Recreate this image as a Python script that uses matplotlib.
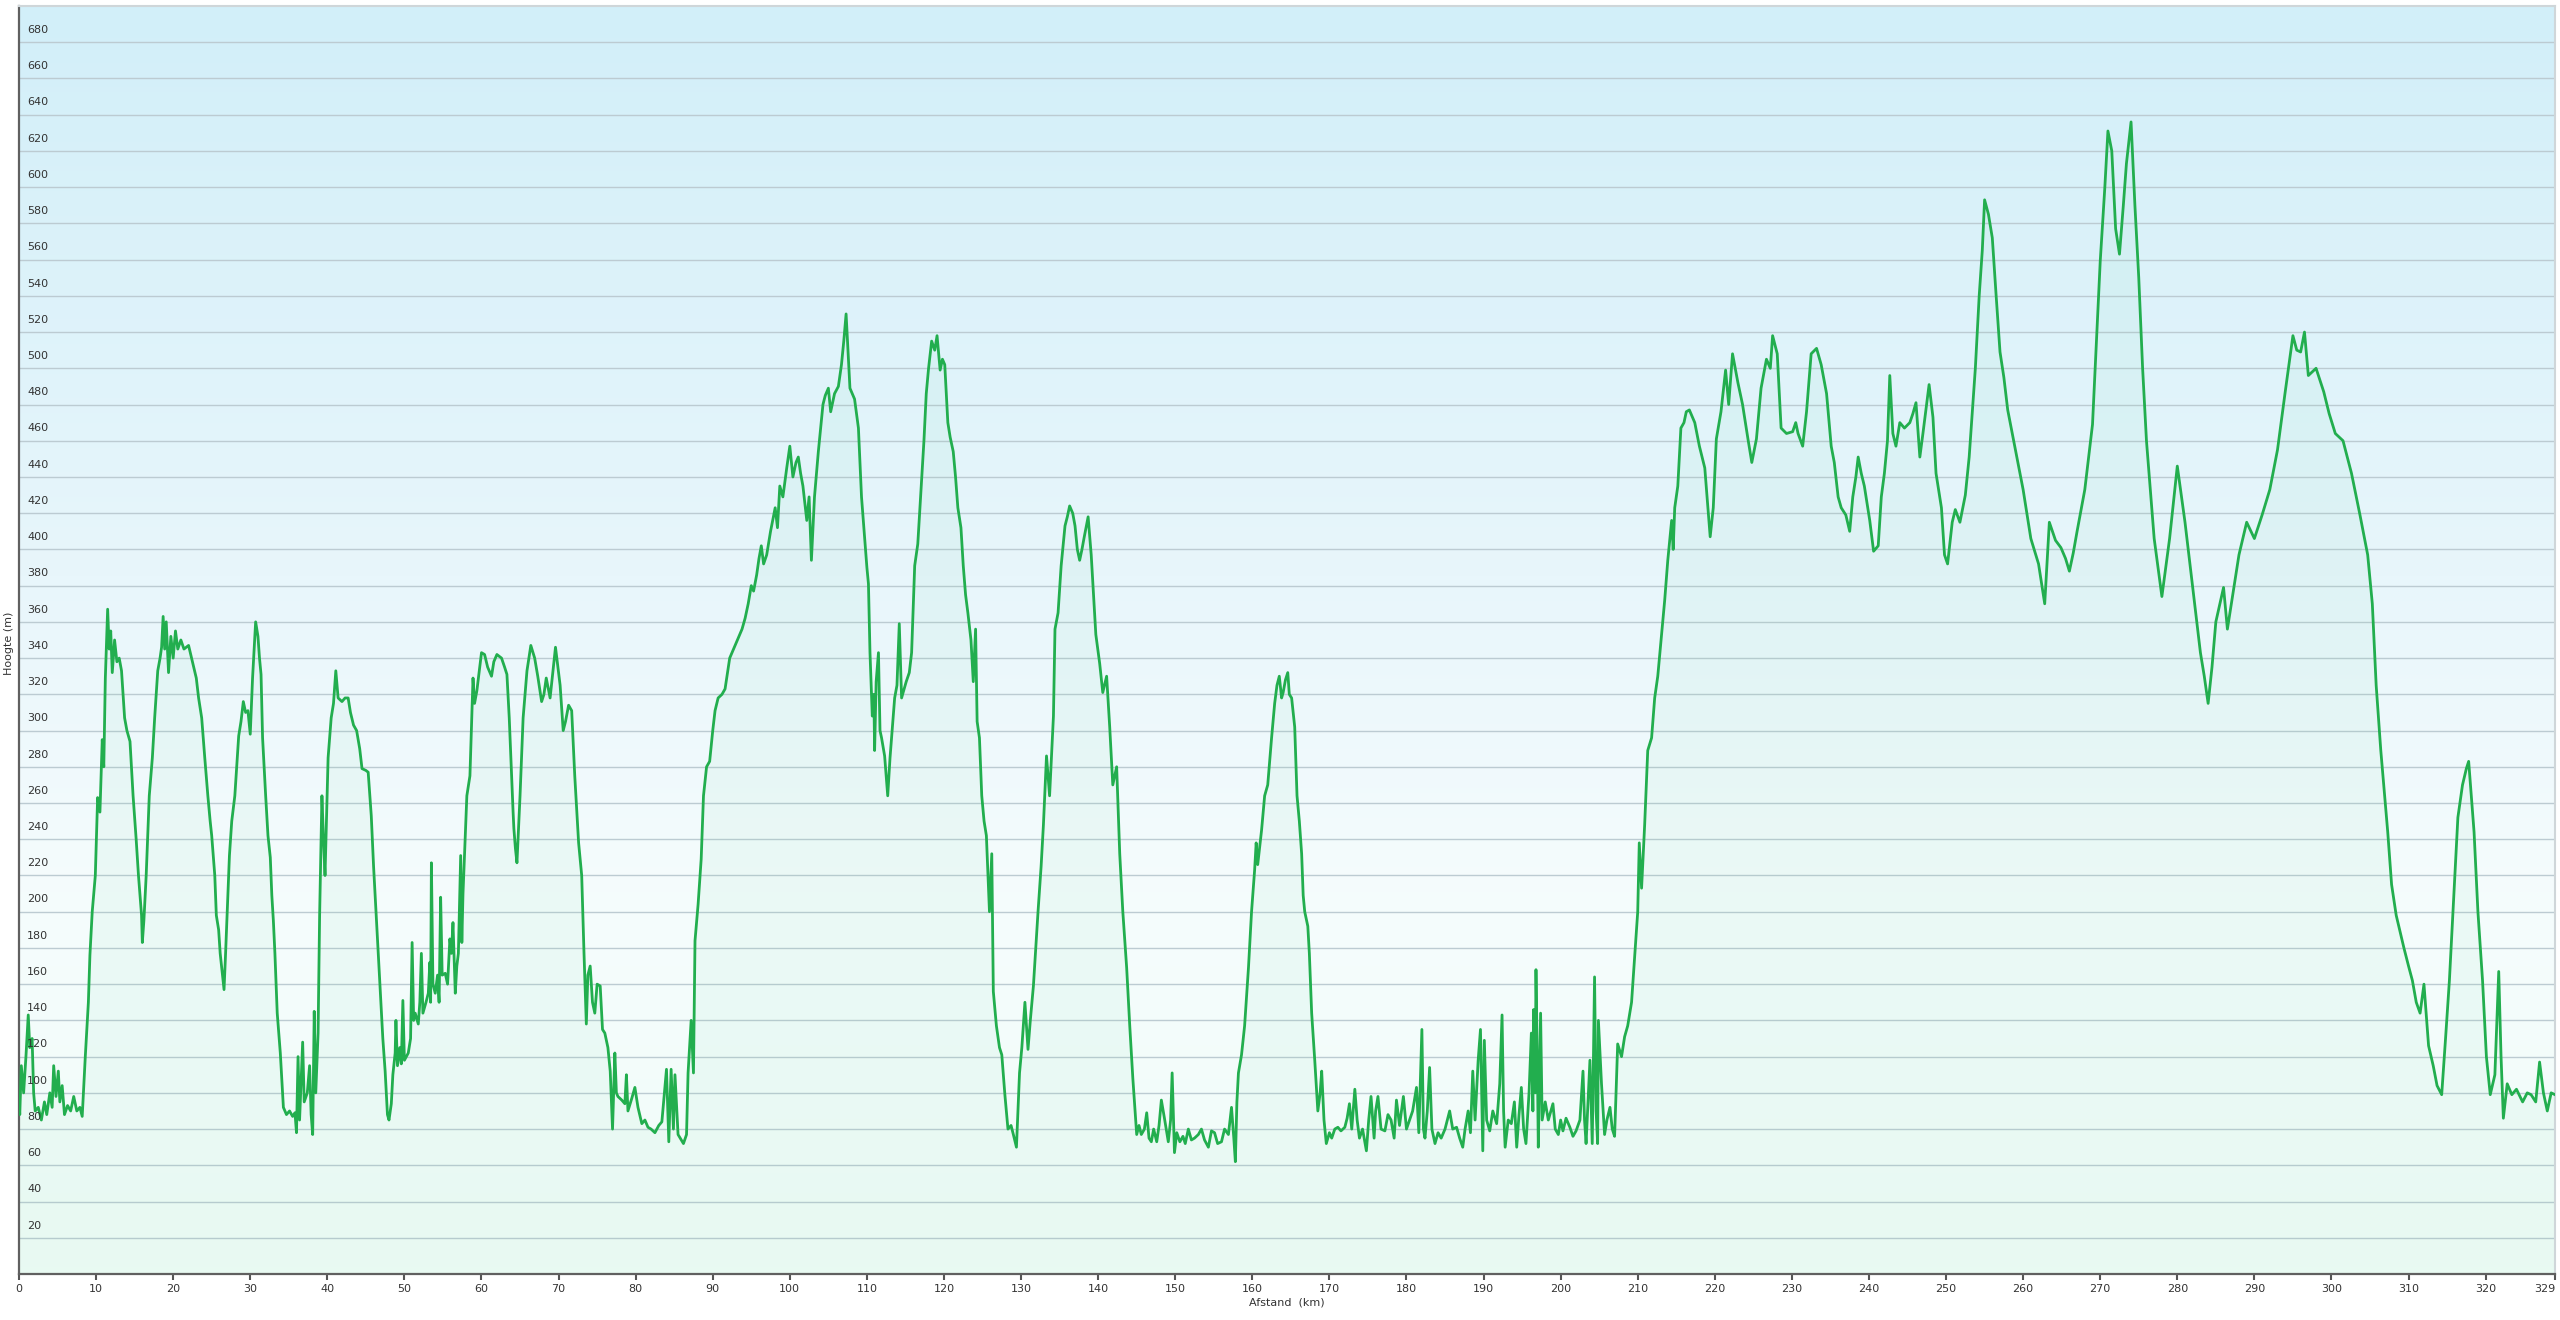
import numpy as np
import matplotlib
matplotlib.use("Agg")
import matplotlib.pyplot as plt
from matplotlib.colors import LinearSegmentedColormap
from matplotlib.transforms import blended_transform_factory

# ---- data ----
distance_km = [
    0.0, 0.1, 0.3, 0.6, 0.9, 1.2, 1.4, 1.7, 1.9, 2.1, 2.5, 2.9, 3.3, 3.6, 4.0, 4.3, 4.5, 4.8, 5.1, 5.3,
    5.6, 5.9, 6.3, 6.7, 7.1, 7.5, 7.9, 8.2, 8.6, 9.0, 9.2, 9.5, 9.9, 10.2, 10.5, 10.8, 11.0, 11.2, 11.5, 11.7,
    11.9, 12.1, 12.4, 12.7, 13.0, 13.3, 13.7, 14.0, 14.4, 14.8, 15.2, 15.5, 15.9, 16.0, 16.2, 16.5, 16.9, 17.3, 17.6, 18.0,
    18.3, 18.5, 18.7, 18.9, 19.1, 19.4, 19.7, 20.0, 20.3, 20.6, 21.0, 21.4, 22.0, 22.5, 23.0, 23.3, 23.7, 24.1, 24.5, 24.8,
    25.0, 25.4, 25.6, 25.9, 26.1, 26.4, 26.6, 26.8, 27.3, 27.6, 28.0, 28.5, 28.8, 29.1, 29.4, 29.7, 30.0, 30.3, 30.7, 31.0,
    31.2, 31.4, 31.6, 32.0, 32.3, 32.6, 32.8, 33.0, 33.2, 33.5, 33.9, 34.3, 34.7, 35.1, 35.5, 35.8, 36.0, 36.2, 36.4, 36.8,
    37.0, 37.4, 37.7, 37.9, 38.1, 38.3, 38.5, 38.8, 39.0, 39.3, 39.5, 39.7, 40.1, 40.5, 40.8, 41.1, 41.4, 41.9, 42.3, 42.7,
    43.0, 43.4, 43.8, 44.2, 44.5, 45.0, 45.3, 45.7, 46.0, 46.2, 46.6, 47.0, 47.2, 47.5, 47.8, 48.0, 48.3, 48.5, 48.8, 48.9,
    49.1, 49.4, 49.6, 49.8, 50.0, 50.5, 50.8, 51.0, 51.2, 51.4, 51.8, 52.0, 52.2, 52.4, 52.8, 53.1, 53.3, 53.4, 53.5, 53.7,
    54.0, 54.3, 54.5, 54.7, 54.9, 55.3, 55.6, 55.9, 56.1, 56.3, 56.6, 56.8, 57.0, 57.3, 57.45, 57.6, 57.9, 58.1, 58.5, 58.9,
    59.1, 59.4, 60.0, 60.4, 60.8, 61.3, 61.6, 62.0, 62.6, 63.0, 63.3, 63.6, 63.9, 64.1, 64.2, 64.4, 64.6, 64.8, 65.0, 65.4,
    65.9, 66.4, 66.9, 67.3, 67.8, 68.1, 68.4, 68.9, 69.2, 69.6, 70.2, 70.6, 70.9, 71.3, 71.7, 72.1, 72.6, 73.0, 73.3, 73.6,
    73.8, 74.1, 74.4, 74.7, 75.0, 75.4, 75.7, 76.0, 76.4, 76.7, 77.0, 77.3, 77.5, 77.7, 78.2, 78.6, 78.8, 79.0, 79.5, 79.9,
    80.3, 80.8, 81.2, 81.6, 82.0, 82.5, 83.0, 83.4, 84.0, 84.3, 84.6, 84.9, 85.1, 85.5, 86.2, 86.6, 86.8, 87.2, 87.5, 87.7,
    88.1, 88.5, 88.8, 89.2, 89.6, 90.0, 90.3, 90.7, 91.2, 91.6, 92.2, 92.7, 93.3, 93.8, 94.2, 94.6, 95.0, 95.3, 95.7, 96.0,
    96.3, 96.6, 97.0, 97.5, 98.1, 98.4, 98.7, 99.1, 99.6, 100.0, 100.4, 100.8, 101.1, 101.4, 101.7, 102.2, 102.5, 102.8, 103.2, 103.7,
    104.3, 104.6, 105.0, 105.3, 105.8, 106.3, 106.7, 107.0, 107.3, 107.6, 107.8, 108.4, 108.9, 109.3, 109.7, 110.0, 110.2, 110.4, 110.7, 110.9,
    111.0, 111.2, 111.5, 111.7, 111.9, 112.3, 112.5, 112.7, 113.0, 113.2, 113.6, 113.9, 114.2, 114.5, 115.1, 115.5, 115.8, 116.2, 116.6, 117.1,
    117.4, 117.7, 118.0, 118.4, 118.8, 119.1, 119.5, 119.8, 120.1, 120.5, 120.8, 121.2, 121.5, 121.8, 122.2, 122.5, 122.8, 123.1, 123.5, 123.8,
    124.1, 124.3, 124.6, 124.9, 125.2, 125.5, 125.9, 126.2, 126.4, 126.8, 127.2, 127.5, 127.9, 128.3, 128.7, 129.0, 129.4, 129.8, 130.1, 130.5,
    130.9, 131.2, 131.6, 132.2, 132.6, 132.9, 133.3, 133.7, 134.2, 134.4, 134.8, 135.2, 135.7, 136.0, 136.3, 136.7, 137.0, 137.3, 137.6, 137.9,
    138.2, 138.7, 139.1, 139.4, 139.7, 140.2, 140.6, 141.1, 141.5, 141.9, 142.4, 142.8, 143.2, 143.7, 144.1, 144.5, 145.0, 145.3, 145.6, 146.0,
    146.3, 146.6, 146.9, 147.2, 147.6, 147.9, 148.2, 148.6, 149.1, 149.4, 149.6, 149.9, 150.2, 150.6, 151.0, 151.3, 151.7, 152.1, 152.5, 153.0,
    153.4, 153.8, 154.3, 154.7, 155.1, 155.5, 156.0, 156.4, 156.9, 157.3, 157.6, 157.8, 158.0, 158.2, 158.6, 159.0, 159.5, 159.9, 160.3, 160.5,
    160.7, 161.2, 161.6, 162.0, 162.5, 162.9, 163.2, 163.5, 163.8, 164.0, 164.3, 164.6, 164.8, 165.1, 165.5, 165.8, 166.1, 166.4, 166.6, 166.8,
    167.2, 167.4, 167.7, 168.1, 168.5, 168.8, 169.0, 169.3, 169.6, 170.0, 170.3, 170.7, 171.1, 171.5, 172.0, 172.3, 172.6, 172.9, 173.3, 173.6,
    173.9, 174.3, 174.8, 175.1, 175.4, 175.8, 176.0, 176.3, 176.7, 177.2, 177.6, 178.0, 178.4, 178.7, 179.1, 179.6, 180.0, 180.4, 180.8, 181.3,
    181.6, 182.0, 182.2, 182.4, 182.7, 183.0, 183.3, 183.7, 184.1, 184.5, 185.0, 185.6, 186.0, 186.5, 186.9, 187.3, 187.6, 188.0, 188.3, 188.6,
    188.9, 189.3, 189.6, 189.8, 189.9, 190.1, 190.4, 190.8, 191.2, 191.7, 192.1, 192.4, 192.6, 192.8, 193.2, 193.6, 194.0, 194.3, 194.6, 194.9,
    195.2, 195.5, 195.9, 196.2, 196.4, 196.5, 196.7, 196.8, 197.0, 197.1, 197.4, 197.6, 198.0, 198.4, 199.0, 199.3, 199.7, 200.0, 200.3, 200.7,
    201.2, 201.6, 202.0, 202.5, 202.9, 203.1, 203.3, 203.8, 204.1, 204.4, 204.6, 204.8, 204.9, 205.3, 205.7, 206.0, 206.4, 206.7, 207.0, 207.4,
    207.9, 208.3, 208.7, 209.2, 209.6, 210.0, 210.2, 210.5, 210.9, 211.3, 211.8, 212.2, 212.6, 213.1, 213.5, 213.9, 214.4, 214.6, 214.8, 215.2,
    215.6, 216.0, 216.3, 216.7, 217.4, 218.0, 218.7, 219.1, 219.4, 219.8, 220.2, 220.8, 221.4, 221.8, 222.3, 223.0, 223.6, 224.3, 224.8, 225.4,
    226.0, 226.7, 227.2, 227.5, 228.1, 228.6, 229.3, 230.1, 230.5, 230.8, 231.4, 231.9, 232.5, 233.2, 233.8, 234.5, 235.1, 235.5, 236.0, 236.4,
    237.0, 237.5, 237.9, 238.3, 238.6, 239.0, 239.4, 240.1, 240.6, 241.2, 241.6, 242.0, 242.4, 242.7, 243.1, 243.5, 244.0, 244.6, 245.3, 245.7,
    246.1, 246.6, 247.0, 247.8, 248.3, 248.7, 249.4, 249.8, 250.2, 250.8, 251.2, 251.8, 252.5, 253.0, 253.8, 254.3, 254.7, 255.0, 255.5, 256.0,
    256.5, 257.0, 257.5, 258.0, 259.0, 260.0, 261.0, 262.0, 262.8, 263.4, 264.2, 264.9, 265.5, 266.0, 266.5, 267.0, 268.0, 269.0, 270.0, 270.6,
    271.0, 271.5, 272.0, 272.5, 273.0, 273.4, 274.0, 274.5, 275.0, 275.5, 276.0, 277.0, 278.0, 278.5, 279.0, 280.0, 281.0, 282.0, 283.0, 283.5,
    284.0, 284.5, 285.0, 286.0, 286.5, 287.2, 288.0, 289.0, 290.0, 291.0, 292.0, 293.0, 294.0, 295.0, 295.5, 296.0, 296.5, 297.0, 298.0, 299.0,
    299.7, 300.5, 301.5, 302.6, 303.7, 304.7, 305.3, 305.8, 306.4, 307.3, 307.8, 308.4, 309.4, 310.0, 310.5, 311.0, 311.5, 312.0, 312.6, 313.2,
    313.7, 314.3, 314.8, 315.3, 316.0, 316.4, 317.0, 317.5, 317.8, 318.5, 319.0, 319.6, 320.1, 320.6, 321.2, 321.7, 322.0, 322.3, 322.8, 323.4,
    324.0, 324.8, 325.4, 325.9, 326.5, 327.0, 327.5, 328.0, 328.5, 329.0,
]

elevation_m = [
    95, 88, 115, 100, 120, 143, 125, 130, 100, 90, 92, 85, 95, 88, 100, 92, 115, 98, 112, 95,
    104, 88, 93, 90, 98, 90, 92, 87, 120, 150, 176, 200, 220, 263, 255, 295, 280, 329, 367, 345,
    355, 332, 350, 338, 340, 333, 307, 300, 294, 264, 240, 220, 198, 183, 195, 220, 264, 285, 307, 333,
    340, 346, 363, 345, 360, 332, 352, 340, 355, 345, 350, 345, 347, 338, 329, 318, 307, 285, 264, 250,
    242, 220, 198, 190, 177, 165, 157, 177, 231, 250, 264, 297, 305, 316, 310, 311, 298, 329, 360, 352,
    340, 331, 296, 264, 242, 230, 209, 195, 177, 144, 122, 92, 88, 90, 87, 89, 78, 120, 85, 128,
    95, 100, 115, 88, 77, 145, 100, 133, 198, 264, 240, 220, 285, 307, 315, 333, 318, 316, 318, 318,
    310, 303, 300, 290, 279, 278, 277, 253, 225, 209, 177, 144, 130, 112, 88, 85, 94, 110, 122, 140,
    115, 125, 116, 151, 118, 122, 130, 183, 140, 144, 138, 150, 177, 144, 150, 155, 172, 150, 227, 160,
    155, 165, 150, 208, 165, 166, 160, 185, 177, 194, 155, 170, 177, 231, 183, 210, 242, 264, 275, 329,
    315, 322, 343, 342, 335, 330, 338, 342, 340, 335, 331, 307, 275, 255, 246, 235, 227, 245, 264, 307,
    333, 347, 340, 330, 316, 320, 329, 318, 330, 346, 325, 300, 305, 314, 311, 275, 238, 220, 177, 138,
    165, 170, 150, 144, 160, 159, 135, 133, 125, 112, 80, 122, 100, 98, 96, 94, 110, 90, 97, 103,
    92, 83, 85, 81, 80, 78, 82, 84, 113, 73, 113, 80, 110, 77, 72, 77, 111, 140, 111, 184,
    204, 229, 264, 280, 283, 300, 311, 318, 320, 323, 340, 345, 351, 356, 362, 370, 380, 377, 386, 395,
    402, 392, 397, 410, 423, 412, 435, 429, 445, 457, 440, 448, 451, 442, 435, 416, 429, 394, 429, 454,
    480, 485, 489, 476, 486, 490, 502, 515, 530, 505, 489, 483, 467, 429, 407, 390, 381, 343, 308, 320,
    289, 327, 343, 300, 296, 286, 275, 264, 285, 296, 318, 325, 359, 318, 327, 332, 343, 391, 403, 438,
    460, 486, 500, 515, 510, 518, 499, 505, 502, 470, 462, 454, 440, 423, 412, 391, 375, 365, 350, 327,
    356, 305, 296, 264, 250, 242, 200, 232, 156, 137, 125, 121, 99, 80, 82, 77, 70, 111, 125, 150,
    124, 140, 159, 200, 225, 248, 286, 264, 308, 356, 365, 391, 413, 418, 424, 420, 413, 400, 394, 400,
    407, 418, 397, 375, 353, 337, 321, 330, 302, 270, 280, 232, 200, 169, 137, 108, 77, 82, 77, 80,
    89, 75, 73, 80, 73, 82, 96, 86, 73, 85, 111, 67, 78, 73, 76, 72, 80, 74, 75, 77,
    80, 74, 70, 79, 78, 72, 73, 80, 77, 92, 75, 62, 95, 111, 121, 137, 169, 200, 223, 238,
    226, 245, 264, 270, 296, 315, 325, 330, 318, 321, 328, 332, 320, 318, 302, 264, 250, 232, 209, 200,
    192, 177, 144, 118, 90, 100, 112, 85, 72, 78, 75, 80, 81, 79, 81, 86, 94, 80, 102, 85,
    75, 80, 68, 85, 98, 75, 90, 98, 80, 79, 88, 85, 75, 96, 82, 98, 80, 85, 90, 103,
    78, 135, 80, 75, 90, 114, 80, 72, 78, 75, 80, 90, 80, 81, 75, 70, 80, 90, 78, 112,
    85, 118, 135, 90, 68, 129, 85, 79, 90, 83, 105, 143, 90, 70, 85, 83, 95, 70, 88, 103,
    80, 72, 100, 133, 90, 146, 100, 168, 110, 70, 144, 85, 95, 85, 94, 80, 77, 85, 79, 86,
    81, 76, 79, 85, 112, 85, 72, 118, 72, 164, 90, 72, 140, 105, 77, 85, 92, 80, 76, 127,
    120, 131, 137, 150, 175, 200, 238, 213, 248, 289, 296, 318, 330, 353, 372, 394, 416, 400, 423, 435,
    467, 470, 476, 477, 470, 457, 445, 423, 407, 423, 461, 476, 499, 480, 508, 492, 480, 461, 448, 461,
    489, 505, 500, 518, 508, 467, 464, 465, 470, 464, 457, 476, 508, 511, 502, 486, 457, 448, 429, 423,
    419, 410, 429, 440, 451, 442, 435, 416, 399, 402, 429, 442, 460, 496, 464, 457, 470, 467, 470, 475,
    481, 451, 464, 491, 473, 442, 423, 397, 392, 415, 422, 415, 430, 451, 500, 540, 565, 593, 585, 572,
    540, 509, 495, 477, 455, 433, 406, 392, 370, 415, 405, 401, 395, 388, 398, 410, 433, 469, 559, 600,
    631, 620, 577, 563, 590, 613, 636, 590, 550, 500, 460, 406, 374, 390, 406, 446, 415, 379, 343, 330,
    315, 335, 360, 379, 356, 375, 397, 415, 406, 419, 433, 455, 487, 518, 510, 509, 520, 496, 500, 487,
    475, 464, 460, 442, 419, 397, 370, 325, 289, 244, 215, 198, 180, 170, 162, 150, 144, 160, 126, 115,
    104, 99, 130, 162, 220, 252, 270, 279, 283, 244, 200, 162, 120, 99, 110, 167, 120, 86, 105, 99,
    102, 95, 100, 99, 95, 117, 100, 90, 100, 99,
]

x_ticks = [0, 10, 20, 30, 40, 50, 60, 70, 80, 90, 100, 110, 120, 130, 140, 150, 160, 170, 180, 190,
           200, 210, 220, 230, 240, 250, 260, 270, 280, 290, 300, 310, 320, 329]
y_ticks = [20, 40, 60, 80, 100, 120, 140, 160, 180, 200, 220, 240, 260, 280, 300, 320, 340,
           360, 380, 400, 420, 440, 460, 480, 500, 520, 540, 560, 580, 600, 620, 640, 660, 680]
x_label = "Afstand  (km)"
y_label = "Hoogte (m)"

# ---- figure ----
W, H = 2560, 1320
fig = plt.figure(figsize=(W / 100, H / 100), dpi=100)
fig.patch.set_facecolor("white")
left, right, top, bottom = 19, 2555, 6, 1274
ax = fig.add_axes([left / W, 1 - bottom / H, (right - left) / W, (bottom - top) / H])

xmax = 329.0
ymax = 700.0
ax.set_xlim(0, xmax)
ax.set_ylim(0, ymax)

# background gradient
cmap = LinearSegmentedColormap.from_list(
    "bg", [(0.0, "#f1fdf8"), (0.30, "#f5fcfd"), (0.55, "#e8f6fb"), (1.0, "#d2eff9")])
grad = np.linspace(0, 1, 256).reshape(-1, 1)
ax.imshow(grad, origin="lower", aspect="auto", cmap=cmap,
          extent=[0, xmax, 0, ymax], zorder=0, interpolation="bicubic")

# grid lines
for yv in y_ticks:
    ax.axhline(yv, color="#bccbd2", lw=1.0, zorder=1)

# profile
ax.fill_between(distance_km, elevation_m, 0, color="#4fd08e", alpha=0.055, lw=0, zorder=2)
ax.plot(distance_km, elevation_m, color="#22ae4e", lw=2.0, zorder=3, solid_joinstyle="round")

# y tick labels inside the plot
tr = blended_transform_factory(ax.transAxes, ax.transData)
for yv in y_ticks:
    ax.text(8 / (right - left), yv + 4, str(yv), transform=tr, ha="left", va="bottom",
            fontsize=8, color="#333333", family="DejaVu Sans", zorder=4)
ax.set_yticks([])

ax.set_xticks(x_ticks)
labels = ax.set_xticklabels([str(v) for v in x_ticks], fontsize=8, color="#333333")
labels[-1].set_horizontalalignment("right")
ax.tick_params(axis="x", direction="out", length=4, width=1.5, color="#555555", pad=3)

ax.set_xlabel(x_label, fontsize=8, color="#333333", labelpad=3)
fig.text(9 / W, 1 - 643 / H, y_label, rotation=90, ha="center", va="center",
         fontsize=8, color="#333333")

for side in ("left", "bottom"):
    ax.spines[side].set_color("#606060")
    ax.spines[side].set_linewidth(1.6)
for side in ("top", "right"):
    ax.spines[side].set_color("#cfd6d9")
    ax.spines[side].set_linewidth(1.5)

fig.savefig("out.png", dpi=100, facecolor="white")
